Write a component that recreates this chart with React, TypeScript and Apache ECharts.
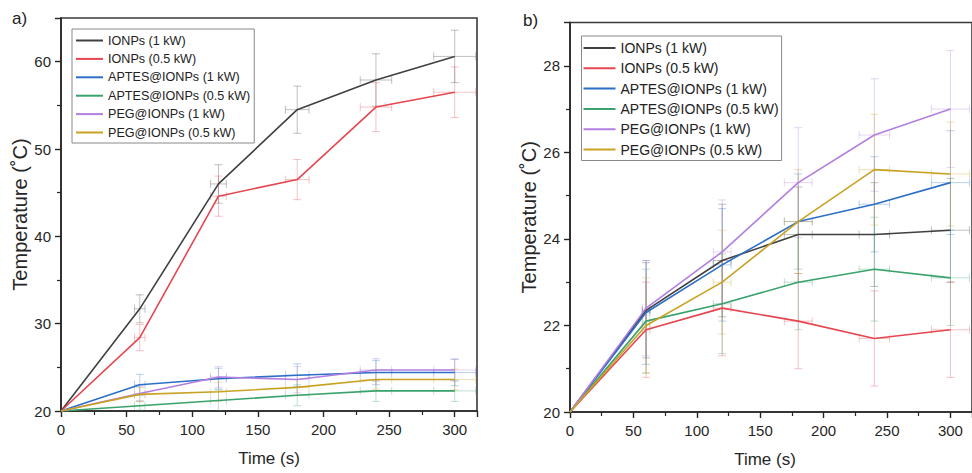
import React, { useEffect, useRef } from "react";
import * as echarts from "echarts";

const times = [0, 60, 120, 180, 240, 300];
const seriesNames = [
  "IONPs (1 kW)",
  "IONPs (0.5 kW)",
  "APTES@IONPs (1 kW)",
  "APTES@IONPs (0.5 kW)",
  "PEG@IONPs (1 kW)",
  "PEG@IONPs (0.5 kW)",
];
const colors = ["#404040", "#e5464f", "#2c6fc4", "#3aa26c", "#b27fe0", "#c9a224"];

// Panel a) temperatures
const aIONPs1 = [20, 31.7, 46.0, 54.5, 57.9, 60.6];
const aIONPs05 = [20, 28.4, 44.6, 46.5, 54.8, 56.5];
const aAPTES1 = [20, 23.0, 23.7, 24.1, 24.4, 24.4];
const aAPTES05 = [20, 20.6, 21.2, 21.8, 22.3, 22.3];
const aPEG1 = [20, 22.0, 23.9, 23.6, 24.7, 24.7];
const aPEG05 = [20, 21.9, 22.2, 22.7, 23.6, 23.6];
// Panel a) temperature errors
const aIONPs1Err = [0, 1.6, 2.2, 2.7, 3.0, 3.0];
const aIONPs05Err = [0, 1.5, 2.3, 2.3, 2.8, 2.9];
const aAPTES1Err = [0, 1.2, 1.2, 1.3, 1.4, 1.5];
const aAPTES05Err = [0, 0.5, 1.2, 1.2, 1.2, 1.2];
const aPEG1Err = [0, 0.8, 1.2, 1.5, 1.3, 1.3];
const aPEG05Err = [0, 0.8, 1.1, 0.9, 1.1, 1.2];
// Panel a) time errors
const aTimeErr = [0, 4, 6, 9, 12, 16];

// Panel b) temperatures
const bIONPs1 = [20, 22.35, 23.5, 24.1, 24.1, 24.2];
const bIONPs05 = [20, 21.9, 22.4, 22.1, 21.7, 21.9];
const bAPTES1 = [20, 22.3, 23.4, 24.4, 24.8, 25.3];
const bAPTES05 = [20, 22.1, 22.5, 23.0, 23.3, 23.1];
const bPEG1 = [20, 22.4, 23.7, 25.3, 26.4, 27.0];
const bPEG05 = [20, 22.0, 23.0, 24.4, 25.6, 25.5];
// Panel b) temperature errors
const bIONPs1Err = [0, 1.1, 1.3, 1.1, 1.2, 1.2];
const bIONPs05Err = [0, 1.1, 1.1, 1.1, 1.1, 1.1];
const bAPTES1Err = [0, 1.2, 1.3, 1.1, 1.1, 1.2];
const bAPTES05Err = [0, 1.2, 1.15, 1.1, 1.2, 1.1];
const bPEG1Err = [0, 1.1, 1.2, 1.27, 1.3, 1.35];
const bPEG05Err = [0, 1.1, 1.2, 1.2, 1.28, 1.2];
// Panel b) time errors
const bTimeErr = [0, 3, 7, 11, 12, 15];

const xTicks = [0, 50, 100, 150, 200, 250, 300];

const aValues = [aIONPs1, aIONPs05, aAPTES1, aAPTES05, aPEG1, aPEG05];
const aErrors = [aIONPs1Err, aIONPs05Err, aAPTES1Err, aAPTES05Err, aPEG1Err, aPEG05Err];
const bValues = [bIONPs1, bIONPs05, bAPTES1, bAPTES05, bPEG1, bPEG05];
const bErrors = [bIONPs1Err, bIONPs05Err, bAPTES1Err, bAPTES05Err, bPEG1Err, bPEG05Err];

const FONT = "'Liberation Sans', Arial, Helvetica, sans-serif";
const AXIS_COLOR = "#262626";

function makeErrorSeries(panel: number, idx: number, vals: number[], errs: number[], terr: number[]) {
  const color = colors[idx];
  return {
    type: "custom",
    name: `err-${panel}-${idx}`,
    xAxisIndex: panel,
    yAxisIndex: panel,
    z: 1,
    silent: true,
    clip: true,
    data: times.map((t, i) => [t, vals[i], terr[i], errs[i]]),
    renderItem: (params: any, api: any) => {
      const x = api.value(0);
      const y = api.value(1);
      const xe = api.value(2);
      const ye = api.value(3);
      if (!xe && !ye) return null;
      const top = api.coord([x, y + ye]);
      const bot = api.coord([x, y - ye]);
      const left = api.coord([x - xe, y]);
      const right = api.coord([x + xe, y]);
      const cap = 4;
      const style = { stroke: color, lineWidth: 1, opacity: 0.33 };
      const ln = (x1: number, y1: number, x2: number, y2: number) => ({
        type: "line",
        shape: { x1, y1, x2, y2 },
        style,
      });
      return {
        type: "group",
        children: [
          ln(top[0], top[1], bot[0], bot[1]),
          ln(top[0] - cap, top[1], top[0] + cap, top[1]),
          ln(bot[0] - cap, bot[1], bot[0] + cap, bot[1]),
          ln(left[0], left[1], right[0], right[1]),
          ln(left[0], left[1] - cap, left[0], left[1] + cap),
          ln(right[0], right[1] - cap, right[0], right[1] + cap),
        ],
      };
    },
  };
}

function makeLineSeries(panel: number, idx: number, vals: number[]) {
  return {
    type: "line",
    name: seriesNames[idx],
    xAxisIndex: panel,
    yAxisIndex: panel,
    z: 3,
    symbol: "none",
    showSymbol: false,
    lineStyle: { color: colors[idx], width: 1.6 },
    itemStyle: { color: colors[idx] },
    data: times.map((t, i) => [t, vals[i]]),
  };
}

function xAxisCfg(gridIndex: number, namePad: number[]) {
  return {
    type: "value",
    gridIndex,
    min: 0,
    max: 317,
    interval: 50,
    name: "Time (s)",
    nameLocation: "middle",
    nameGap: 39,
    nameTextStyle: { fontFamily: FONT, fontSize: 17, color: AXIS_COLOR, padding: namePad },
    axisLine: { show: true, lineStyle: { color: AXIS_COLOR, width: 1.6 } },
    axisTick: { show: true, inside: false, length: 6, lineStyle: { color: AXIS_COLOR, width: 1.4 } },
    minorTick: { show: true, splitNumber: 2, length: 4, lineStyle: { color: AXIS_COLOR, width: 1.2 } },
    axisLabel: {
      fontFamily: FONT,
      fontSize: 15,
      color: AXIS_COLOR,
      margin: 11,
      showMaxLabel: false,
      formatter: (v: number) => (xTicks.indexOf(v) >= 0 ? String(v) : ""),
    },
    splitLine: { show: false },
  };
}

function yAxisCfg(gridIndex: number, min: number, max: number, interval: number) {
  return {
    type: "value",
    gridIndex,
    min,
    max,
    interval,
    name: "Temperature (˚C)",
    nameLocation: "middle",
    nameGap: 29,
    nameRotate: 90,
    nameTextStyle: { fontFamily: FONT, fontSize: 20, color: AXIS_COLOR },
    axisLine: { show: true, lineStyle: { color: AXIS_COLOR, width: 1.6 } },
    axisTick: { show: true, inside: false, length: 6, lineStyle: { color: AXIS_COLOR, width: 1.4 } },
    minorTick: { show: true, splitNumber: 2, length: 4, lineStyle: { color: AXIS_COLOR, width: 1.2 } },
    axisLabel: {
      fontFamily: FONT,
      fontSize: 15,
      color: AXIS_COLOR,
      margin: 10,
      showMaxLabel: false,
    },
    splitLine: { show: false },
  };
}

export default function App() {
  const ref = useRef<HTMLDivElement>(null);

  useEffect(() => {
    if (!ref.current) return;
    const chart = echarts.init(ref.current, null, { renderer: "svg" });

    const series: any[] = [];
    for (let i = 0; i < 6; i++) series.push(makeErrorSeries(0, i, aValues[i], aErrors[i], aTimeErr));
    for (let i = 0; i < 6; i++) series.push(makeErrorSeries(1, i, bValues[i], bErrors[i], bTimeErr));
    for (let i = 0; i < 6; i++) series.push(makeLineSeries(0, i, aValues[i]));
    for (let i = 0; i < 6; i++) series.push(makeLineSeries(1, i, bValues[i]));

    const option: any = {
      animation: false,
      backgroundColor: "#ffffff",
      grid: [
        {
          left: 61,
          top: 18,
          width: 416,
          height: 393,
          show: true,
          borderColor: "#3a3a3a",
          borderWidth: 1.6,
          backgroundColor: "transparent",
          containLabel: false,
        },
        {
          left: 570,
          top: 22.5,
          width: 410,
          height: 390,
          show: true,
          borderColor: "#3a3a3a",
          borderWidth: 1.6,
          backgroundColor: "transparent",
          containLabel: false,
        },
      ],
      xAxis: [xAxisCfg(0, [0, 0, 0, 0]), xAxisCfg(1, [0, 12, 0, 0])],
      yAxis: [yAxisCfg(0, 20, 65, 10), yAxisCfg(1, 20, 29, 2)],
      legend: [
        {
          data: seriesNames,
          orient: "vertical",
          left: 72,
          top: 29,
          padding: [5, 4, 4, 4],
          itemWidth: 27,
          itemHeight: 2,
          itemGap: 5.4,
          icon: "rect",
          borderColor: "#8a8a8a",
          borderWidth: 1,
          backgroundColor: "#ffffff",
          selectedMode: false,
          textStyle: { fontFamily: FONT, fontSize: 12.6, color: "#222" },
        },
        {
          data: seriesNames,
          orient: "vertical",
          left: 581.5,
          top: 36,
          padding: [5, 3, 4, 2],
          itemWidth: 32,
          itemHeight: 2,
          itemGap: 6.3,
          icon: "rect",
          borderColor: "#8a8a8a",
          borderWidth: 1,
          backgroundColor: "#ffffff",
          selectedMode: false,
          textStyle: { fontFamily: FONT, fontSize: 14, color: "#222" },
        },
      ],
      graphic: [
        {
          type: "text",
          left: 12,
          top: 10,
          style: { text: "a)", fontFamily: FONT, fontSize: 17, fill: "#222" },
        },
        {
          type: "text",
          left: 523,
          top: 12,
          style: { text: "b)", fontFamily: FONT, fontSize: 17, fill: "#222" },
        },
      ],
      series,
    };

    chart.setOption(option);
    return () => {
      chart.dispose();
    };
  }, []);

  return (
    <div
      ref={ref}
      style={{ position: "fixed", left: 0, top: 0, width: 972, height: 473, background: "#fff" }}
    />
  );
}
